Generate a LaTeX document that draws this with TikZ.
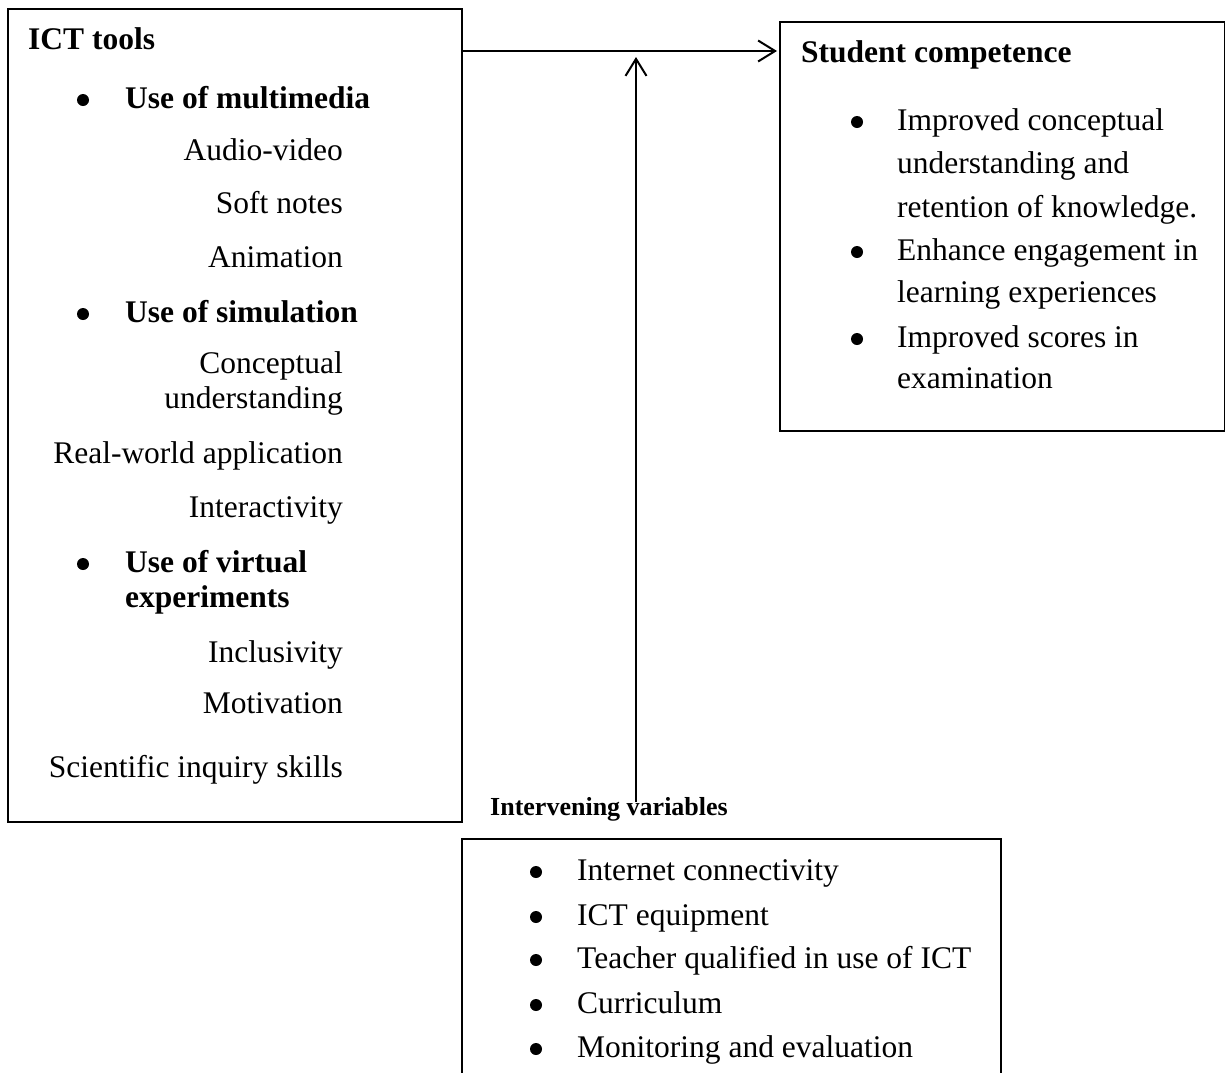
\documentclass[tikz,border=0pt]{standalone}
\usepackage{fontspec}
\setmainfont{Liberation Serif}
\usetikzlibrary{arrows.meta}
\begin{document}
\begin{tikzpicture}[x=1pt,y=-1pt,
  box/.style={draw, line width=2pt, inner sep=0pt, anchor=north west},
  txt/.style={inner sep=0pt, font=\fontsize{31.5}{36}\selectfont},
  hd/.style={inner sep=0pt, font=\fontsize{31.5}{36}\selectfont\bfseries, anchor=base west},
  itemL/.style={txt, anchor=base east},
  itemW/.style={txt, anchor=base west},
  dot/.style={circle, fill, inner sep=0pt, minimum size=12pt},
  conn/.style={line width=2pt, -{Straight Barb[length=17pt,width=21pt,line width=2pt]}}
]
\clip (0,0) rectangle (1225,1072);
\fill[white] (0,0) rectangle (1225,1072);

% boxes
\node[box, minimum width=454pt, minimum height=813pt] (ict) at (7,8) {};
\node[box, minimum width=445pt, minimum height=409pt] (stu) at (779,21) {};
\node[box, minimum width=539pt, minimum height=260pt] (ivb) at (461,838) {};

% left box
\node[hd] (t1) at (28,49.5) {ICT tools};
\node[dot] (b1) at (83,100) {};
\node[hd] (h1) at (125,108) {Use of multimedia};
\node[itemL] (a1) at (343,160) {Audio-video};
\node[itemL] (a2) at (343,213) {Soft notes};
\node[itemL] (a3) at (343,267) {Animation};
\node[dot] (b2) at (83,314) {};
\node[hd] (h2) at (125,322) {Use of simulation};
\node[itemL] (s1a) at (343,373) {Conceptual};
\node[itemL] (s1b) at (343,408) {understanding};
\node[itemL] (s2) at (343,463) {Real-world application};
\node[itemL] (s3) at (343,517) {Interactivity};
\node[dot] (b3) at (83,564) {};
\node[hd] (h3a) at (125,572) {Use of virtual};
\node[hd] (h3b) at (125,607) {experiments};
\node[itemL] (v1) at (343,662) {Inclusivity};
\node[itemL] (v2) at (343,713) {Motivation};
\node[itemL] (v3) at (343,777) {Scientific inquiry skills};

% right box
\node[hd] (t2) at (801,62) {Student competence};
\node[dot] (rb1) at (857,122) {};
\node[itemW] (r1a) at (897,130) {Improved conceptual};
\node[itemW] (r1b) at (897,173) {understanding and};
\node[itemW] (r1c) at (897,217) {retention of knowledge.};
\node[dot] (rb2) at (857,252) {};
\node[itemW] (r2a) at (897,260) {Enhance engagement in};
\node[itemW] (r2b) at (897,302) {learning experiences};
\node[dot] (rb3) at (857,339) {};
\node[itemW] (r3a) at (897,347) {Improved scores in};
\node[itemW] (r3b) at (897,388) {examination};

% intervening variables
\node[inner sep=0pt, font=\fontsize{26}{30}\selectfont\bfseries, anchor=base west] (t3) at (490,815) {Intervening variables};
\node[dot] (ib1) at (536,872) {};
\node[itemW] (i1) at (577,880) {Internet connectivity};
\node[dot] (ib2) at (536,917) {};
\node[itemW] (i2) at (577,925) {ICT equipment};
\node[dot] (ib3) at (536,960) {};
\node[itemW] (i3) at (577,968) {Teacher qualified in use of ICT};
\node[dot] (ib4) at (536,1005) {};
\node[itemW] (i4) at (577,1013) {Curriculum};
\node[dot] (ib5) at (536,1049) {};
\node[itemW] (i5) at (577,1057) {Monitoring and evaluation};

% connectors
\coordinate (hy) at (0,51);
\coordinate (vstart) at (636,802);
\coordinate (vend) at (636,57);
\draw[conn] (ict.east |- hy) -- ([xshift=-2pt]stu.west |- hy);
\draw[conn] (vstart) -- (vend);
\end{tikzpicture}
\end{document}
